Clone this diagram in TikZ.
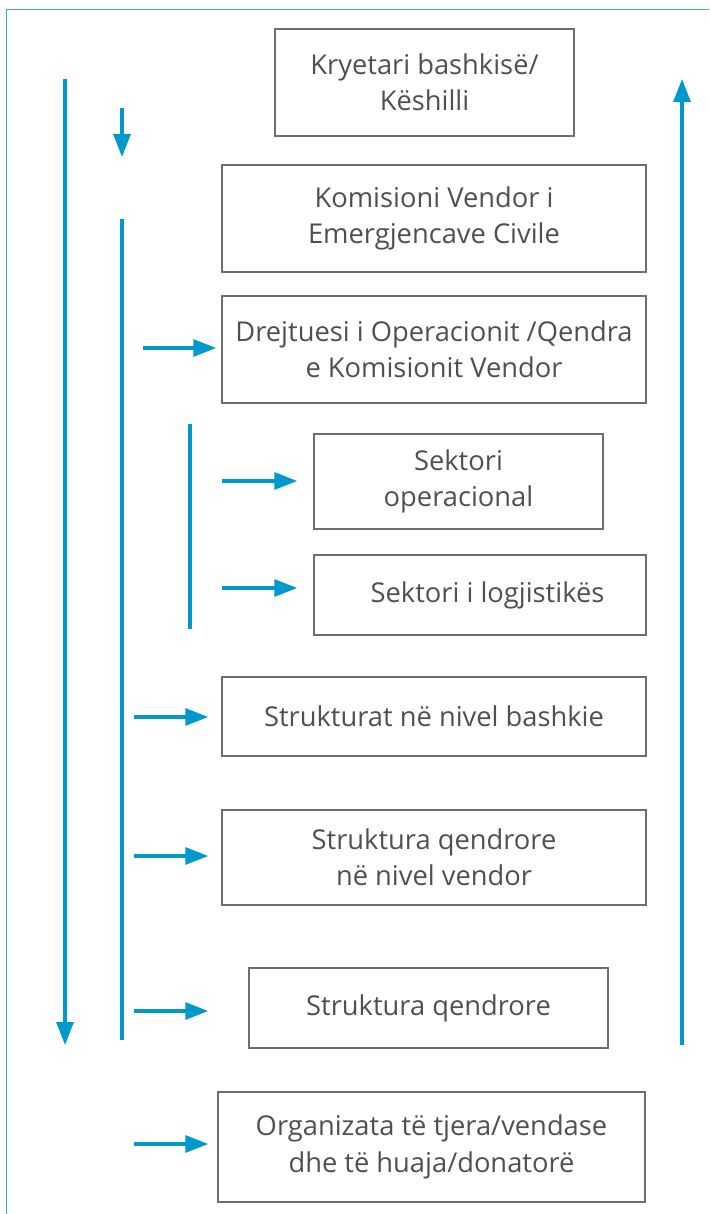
\documentclass[tikz,border=0pt]{standalone}
\usepackage{fontspec}
\setmainfont{Open Sans}
\usetikzlibrary{arrows.meta}
\definecolor{arrblue}{RGB}{0,153,206}
\definecolor{frameblue}{RGB}{52,170,222}
\definecolor{boxgray}{RGB}{110,110,110}
\definecolor{txtgray}{RGB}{80,80,80}
\begin{document}
\begin{tikzpicture}[x=1pt,y=-1pt,
  box/.style={draw=boxgray, line width=1.5pt, fill=white, align=center, text=txtgray,
    font=\fontsize{27.3}{36.5}\selectfont, inner sep=0pt},
  arr/.style={arrblue, line width=3.2pt, -{Triangle[length=23pt,width=17pt]}},
  bar/.style={arrblue, line width=3.2pt}]
\useasboundingbox (0,0) rectangle (709,1214);
\fill[white] (0,0) rectangle (709,1214);
% frame
\draw[frameblue, line width=1.5pt] (6.5,1214) -- (6.5,9.5) -- (709,9.5);
% boxes
\node[box, minimum width=299pt, minimum height=107pt] (b1) at (424.5,82.5) {Kryetari bashkisë/\\Këshilli};
\node[box, minimum width=424pt, minimum height=107pt] (b2) at (434,218.5) {Komisioni Vendor i\\Emergjencave Civile};
\node[box, minimum width=424pt, minimum height=107pt] (b3) at (434,349.5) {Drejtuesi i Operacionit /Qendra\\e Komisionit Vendor};
\node[box, minimum width=289pt, minimum height=95pt] (b4) at (458.5,481.5) {Sektori\\operacional};
\node[box, minimum width=332pt, minimum height=80pt] (b5) at (480,595) {\hspace*{15pt}Sektori i logjistikës};
\node[box, minimum width=424pt, minimum height=79pt] (b6) at (434,716.5) {Strukturat në nivel bashkie};
\node[box, minimum width=424pt, minimum height=95pt] (b7) at (434,857.5) {Struktura qendrore\\në nivel vendor};
\node[box, minimum width=359pt, minimum height=80pt] (b8) at (428.5,1008) {Struktura qendrore};
\node[box, minimum width=427pt, minimum height=110pt] (b9) at (431.5,1147) {Organizata të tjera/vendase\\dhe të huaja/donatorë};
% vertical lines and arrows
\coordinate (l1a) at (65,79);
\coordinate (l1b) at (65,1045);
\draw[arr] (l1a) -- (l1b);
\coordinate (d1a) at (122,108);
\coordinate (d1b) at (122,157);
\draw[arr] (d1a) -- (d1b);
\coordinate (v1a) at (122,219);
\coordinate (v1b) at (122,1040);
\draw[bar] (v1a) -- (v1b);
\coordinate (v2a) at (190,424);
\coordinate (v2b) at (190,629);
\draw[bar] (v2a) -- (v2b);
\coordinate (r1a) at (682,1045);
\coordinate (r1b) at (682,79);
\draw[arr] (r1a) -- (r1b);
% horizontal arrows
\coordinate (s3) at (143,348);
\coordinate (s4) at (222,481);
\coordinate (s5) at (222,588);
\coordinate (s6) at (134,717);
\coordinate (s7) at (134,856);
\coordinate (s8) at (134,1011);
\coordinate (s9) at (134,1144);
\draw[arr, shorten >=5pt] (s3) -- (s3 -| b3.west);
\draw[arr, shorten >=16pt] (s4) -- (s4 -| b4.west);
\draw[arr, shorten >=16pt] (s5) -- (s5 -| b5.west);
\draw[arr, shorten >=13pt] (s6) -- (s6 -| b6.west);
\draw[arr, shorten >=13pt] (s7) -- (s7 -| b7.west);
\draw[arr, shorten >=40pt] (s8) -- (s8 -| b8.west);
\draw[arr, shorten >=9pt] (s9) -- (s9 -| b9.west);
\end{tikzpicture}
\end{document}
